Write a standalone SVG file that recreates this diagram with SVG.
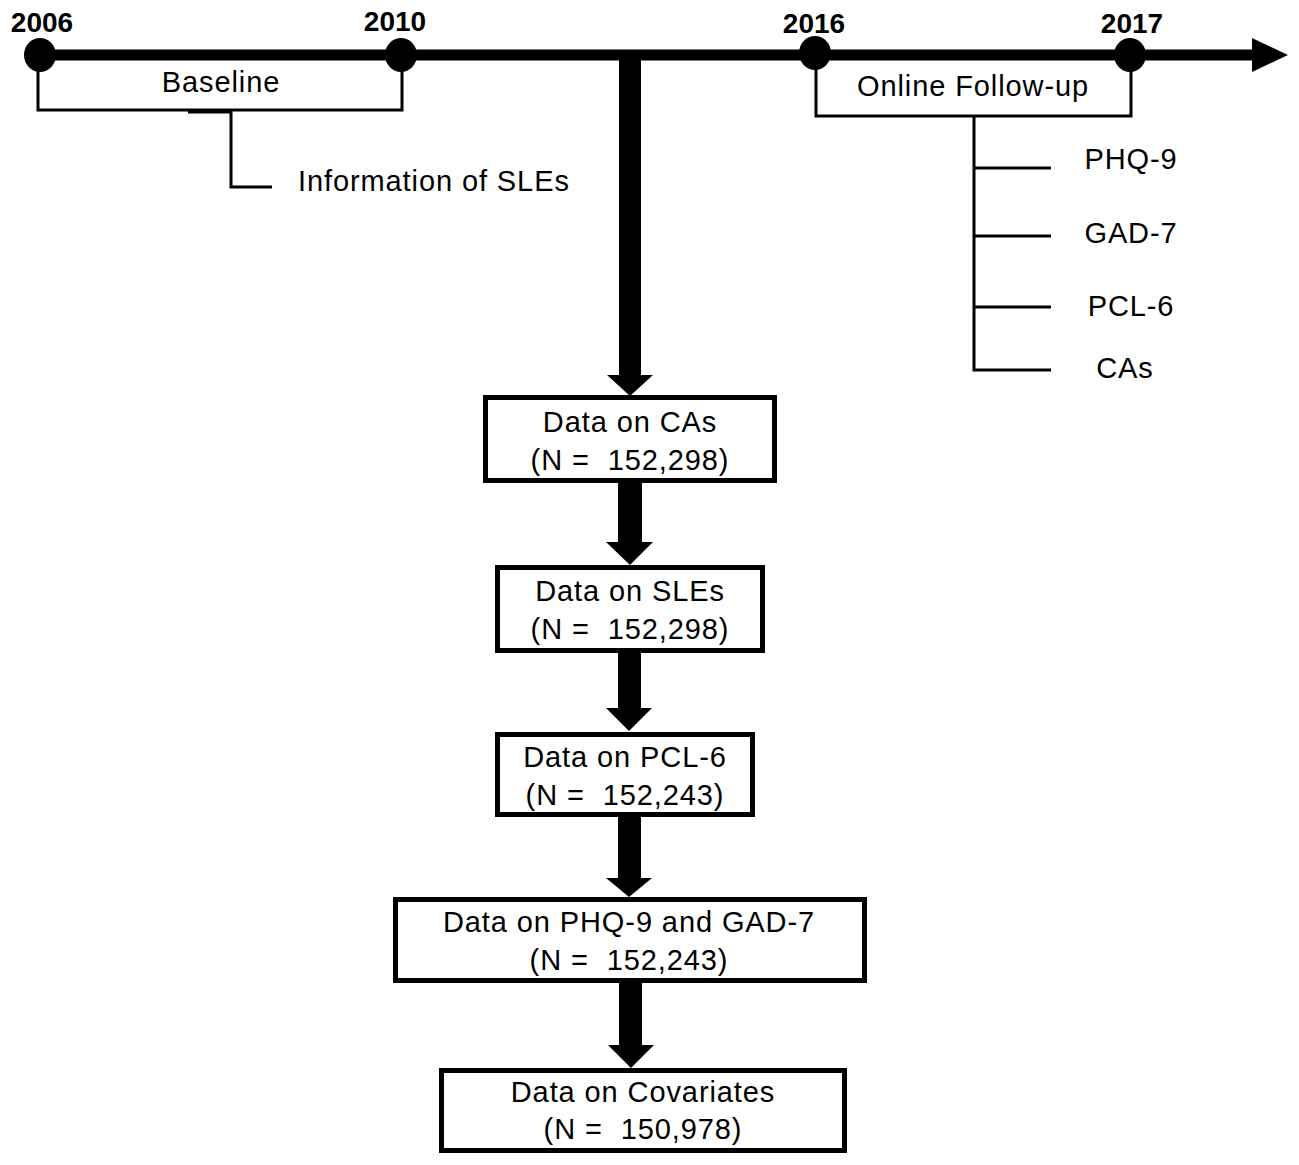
<svg xmlns="http://www.w3.org/2000/svg" width="1299" height="1165" viewBox="0 0 1299 1165">
<style>
text{font-family:"Liberation Sans",Arial,sans-serif;fill:#000;}
.yr{font-size:28px;font-weight:bold;text-anchor:middle;}
.lbl{font-size:29px;letter-spacing:0.9px;}
.box{fill:#fff;stroke:#000;stroke-width:5;}
.thin{fill:none;stroke:#000;stroke-width:3;}
.bt{font-size:29px;text-anchor:middle;white-space:pre;letter-spacing:0.9px;}
</style>
<rect width="1299" height="1165" fill="#fff"/>
<g id="connectors">
  <path class="thin" d="M188 112 H231 V187 H272"/>
  <path class="thin" d="M974 116 V370 H1051 M974 168 H1051 M974 236 H1051 M974 307 H1051"/>
  <rect x="619" y="55" width="22" height="322" fill="#000"/>
  <polygon points="607,375 653,375 630,396" fill="#000"/>
  <rect x="618" y="483" width="24" height="62" fill="#000"/>
  <polygon points="606,542 653,542 630,565" fill="#000"/>
  <rect x="618" y="653" width="23" height="58" fill="#000"/>
  <polygon points="606,708 652,708 629,731" fill="#000"/>
  <rect x="618" y="817" width="23" height="63" fill="#000"/>
  <polygon points="606,878 652,878 629,897" fill="#000"/>
  <rect x="619" y="983" width="23" height="64" fill="#000"/>
  <polygon points="608,1045 654,1045 631,1068" fill="#000"/>
</g>
<g id="timeline">
  <rect x="40" y="49.5" width="1215" height="11" fill="#000"/>
  <polygon points="1252,38 1288,55 1252,72" fill="#000"/>
</g>
<g id="baseline">
  <path class="thin" d="M38 55 V110 H402 V55"/>
  <text class="lbl" x="221" y="92" text-anchor="middle">Baseline</text>
</g>
<g id="followup">
  <path class="thin" d="M816 55 V116 H1131 V55"/>
  <text class="lbl" x="973" y="96" text-anchor="middle">Online Follow-up</text>
</g>
<g id="y2006"><ellipse cx="40" cy="55" rx="16" ry="17" fill="#000"/><text class="yr" x="42" y="32">2006</text></g>
<g id="y2010"><ellipse cx="401" cy="55" rx="16" ry="17" fill="#000"/><text class="yr" x="395" y="31">2010</text></g>
<g id="y2016"><ellipse cx="815" cy="53" rx="16" ry="17" fill="#000"/><text class="yr" x="814" y="33">2016</text></g>
<g id="y2017"><ellipse cx="1130" cy="55" rx="16" ry="17" fill="#000"/><text class="yr" x="1132" y="33">2017</text></g>
<g id="sles"><text class="lbl" x="298" y="191">Information of SLEs</text></g>
<g id="phq9"><text class="lbl" x="1131" y="169" text-anchor="middle">PHQ-9</text></g>
<g id="gad7"><text class="lbl" x="1131" y="243" text-anchor="middle">GAD-7</text></g>
<g id="pcl6"><text class="lbl" x="1131" y="316" text-anchor="middle">PCL-6</text></g>
<g id="cas"><text class="lbl" x="1125" y="378" text-anchor="middle">CAs</text></g>
<g id="box1">
  <rect class="box" x="485.5" y="397.5" width="289" height="83"/>
  <text class="bt" x="630" y="432">Data on CAs</text>
  <text class="bt" x="630" y="470">(N =  152,298)</text>
</g>
<g id="box2">
  <rect class="box" x="497.5" y="567.5" width="265" height="83"/>
  <text class="bt" x="630" y="601">Data on SLEs</text>
  <text class="bt" x="630" y="639">(N =  152,298)</text>
</g>
<g id="box3">
  <rect class="box" x="497.5" y="734.5" width="255" height="80"/>
  <text class="bt" x="625" y="767">Data on PCL-6</text>
  <text class="bt" x="625" y="805">(N =  152,243)</text>
</g>
<g id="box4">
  <rect class="box" x="395.5" y="899.5" width="469" height="81"/>
  <text class="bt" x="629" y="932">Data on PHQ-9 and GAD-7</text>
  <text class="bt" x="629" y="970">(N =  152,243)</text>
</g>
<g id="box5">
  <rect class="box" x="441.5" y="1070.5" width="403" height="80"/>
  <text class="bt" x="643" y="1102">Data on Covariates</text>
  <text class="bt" x="643" y="1139">(N =  150,978)</text>
</g>
</svg>
